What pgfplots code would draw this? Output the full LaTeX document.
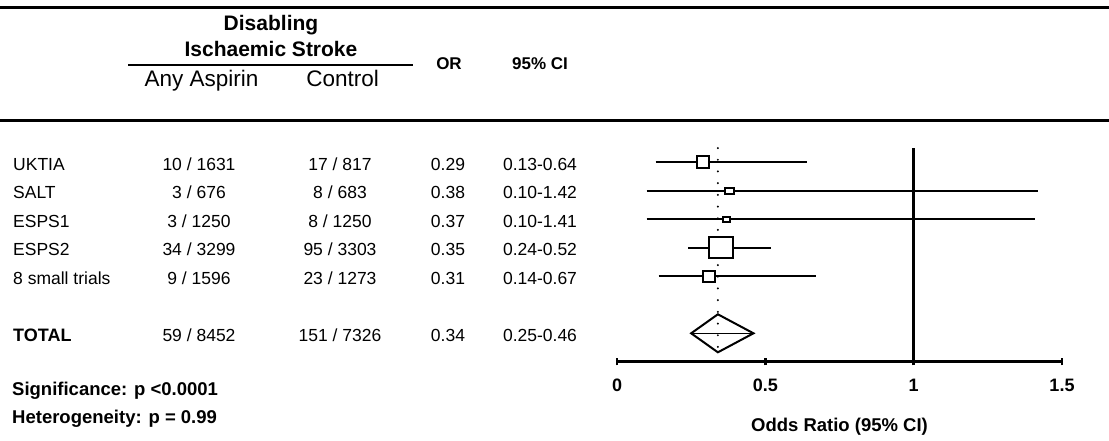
\documentclass[border=0pt]{standalone}
\usepackage{fontspec}
\setmainfont{Liberation Sans}
\usepackage{pgfplots}
\pgfplotsset{compat=1.18}

\newcommand\fs[1]{\fontsize{#1}{#1}\selectfont}

\pgfplotsset{
  ci/.style={black, line width=2pt, no markers},
  wbox/.style={only marks, mark=square*,
    mark options={fill=white, draw=black, line width=2pt, xscale=#1}},
  wbox/.default=1,
}

\begin{document}
\begin{tikzpicture}[x=1pt,y=1pt,every node/.style={inner sep=0pt}]
\useasboundingbox (0,0) rectangle (1109,-441);

% table rules
\draw[line width=2.5pt] (0,-7.3) -- (1109,-7.3);
\draw[line width=3pt] (0,-121) -- (1109,-121);
\draw[line width=2pt] (128,-65) -- (413,-65);

% column headings
\node[anchor=base, font=\bfseries\fs{21}] at (271,-30.7) {Disabling};
\node[anchor=base, font=\bfseries\fs{21}] at (271,-56.7) {Ischaemic Stroke};
\node[anchor=base, font=\fs{22.5}] at (201.5,-86.7) {Any Aspirin};
\node[anchor=base, font=\fs{22.5}] at (342.7,-86.7) {Control};
\node[anchor=base, font=\bfseries\fs{17}] at (449,-70) {OR};
\node[anchor=base, font=\bfseries\fs{17}] at (540,-70) {95\% CI};

% trial rows
\begin{scope}[every node/.style={anchor=base, inner sep=0pt, font=\fs{17.5}}]
\node[anchor=base west] at (13,-170.3) {UKTIA};
\node at (199,-170.3) {10 / 1631};
\node at (340,-170.3) {17 / 817};
\node at (448,-170.3) {0.29};
\node at (540,-170.3) {0.13-0.64};

\node[anchor=base west] at (13,-198.8) {SALT};
\node at (199,-198.8) {3 / 676};
\node at (340,-198.8) {8 / 683};
\node at (448,-198.8) {0.38};
\node at (540,-198.8) {0.10-1.42};

\node[anchor=base west] at (13,-227.3) {ESPS1};
\node at (199,-227.3) {3 / 1250};
\node at (340,-227.3) {8 / 1250};
\node at (448,-227.3) {0.37};
\node at (540,-227.3) {0.10-1.41};

\node[anchor=base west] at (13,-255.8) {ESPS2};
\node at (199,-255.8) {34 / 3299};
\node at (340,-255.8) {95 / 3303};
\node at (448,-255.8) {0.35};
\node at (540,-255.8) {0.24-0.52};

\node[anchor=base west] at (13,-284.3) {8 small trials};
\node at (199,-284.3) {9 / 1596};
\node at (340,-284.3) {23 / 1273};
\node at (448,-284.3) {0.31};
\node at (540,-284.3) {0.14-0.67};

\node[anchor=base west, font=\bfseries\fs{18}] at (13,-341.3) {TOTAL};
\node at (199,-341.3) {59 / 8452};
\node at (340,-341.3) {151 / 7326};
\node at (448,-341.3) {0.34};
\node at (540,-341.3) {0.25-0.46};
\end{scope}

\node[anchor=base west, font=\bfseries\fs{18.5}] at (12,-395) {Significance: p <0.0001};
\node[anchor=base west, font=\bfseries\fs{18.5}] at (12,-423.3) {Heterogeneity: p = 0.99};

% forest plot
\begin{axis}[
  at={(617pt,-361.8pt)}, anchor=south west,
  scale only axis, width=445pt, height=213.75pt,
  xmin=0, xmax=1.5, ymin=-8, ymax=-0.5,
  axis x line=bottom, axis y line=none,
  axis line style={-, line width=3pt},
  x axis line style={-},
  xtick={0,0.5,1,1.5}, xticklabels={0,0.5,1,1.5},
  tick align=center, major tick length=7pt,
  every tick/.style={black, line width=2.5pt},
  xticklabel style={font=\bfseries\fs{18}, anchor=base, yshift=-26.2pt},
  xlabel={Odds Ratio (95\% CI)},
  xlabel style={font=\bfseries\fs{18.5}, at={(axis description cs:0.5,0)}, anchor=base, yshift=-69.9pt},
  clip=false,
]
% confidence intervals
\addplot[ci] coordinates {(0.13,-1) (0.64,-1)};
\addplot[ci] coordinates {(0.10,-2) (1.42,-2)};
\addplot[ci] coordinates {(0.10,-3) (1.41,-3)};
\addplot[ci] coordinates {(0.24,-4) (0.52,-4)};
\addplot[ci] coordinates {(0.14,-5) (0.67,-5)};
% line of no effect
\addplot[black, line width=2.5pt, no markers] coordinates {(1,-0.5) (1,-8)};
% point estimates, box area by weight
\addplot[wbox, mark size=6pt] coordinates {(0.29,-1)};
\addplot[wbox=1.5, mark size=3pt] coordinates {(0.38,-2)};
\addplot[wbox=1.43, mark size=2.5pt] coordinates {(0.37,-3)};
\addplot[wbox=1.13, mark size=10.5pt] coordinates {(0.35,-4)};
\addplot[wbox=1.15, mark size=5.5pt] coordinates {(0.31,-5)};
% pooled estimate
\addplot[black, line width=2pt, fill=white, no markers] coordinates {(0.25,-7) (0.34,-6.333) (0.46,-7) (0.34,-7.667)} -- cycle;
\addplot[black, line width=1.5pt, no markers] coordinates {(0.25,-7) (0.46,-7)};
% pooled odds ratio reference
\addplot[black, line width=2.2pt, line cap=round, dash pattern=on 0pt off 11.7pt, no markers] coordinates {(0.34,-0.5) (0.34,-7.7)};
\end{axis}
\end{tikzpicture}
\end{document}
